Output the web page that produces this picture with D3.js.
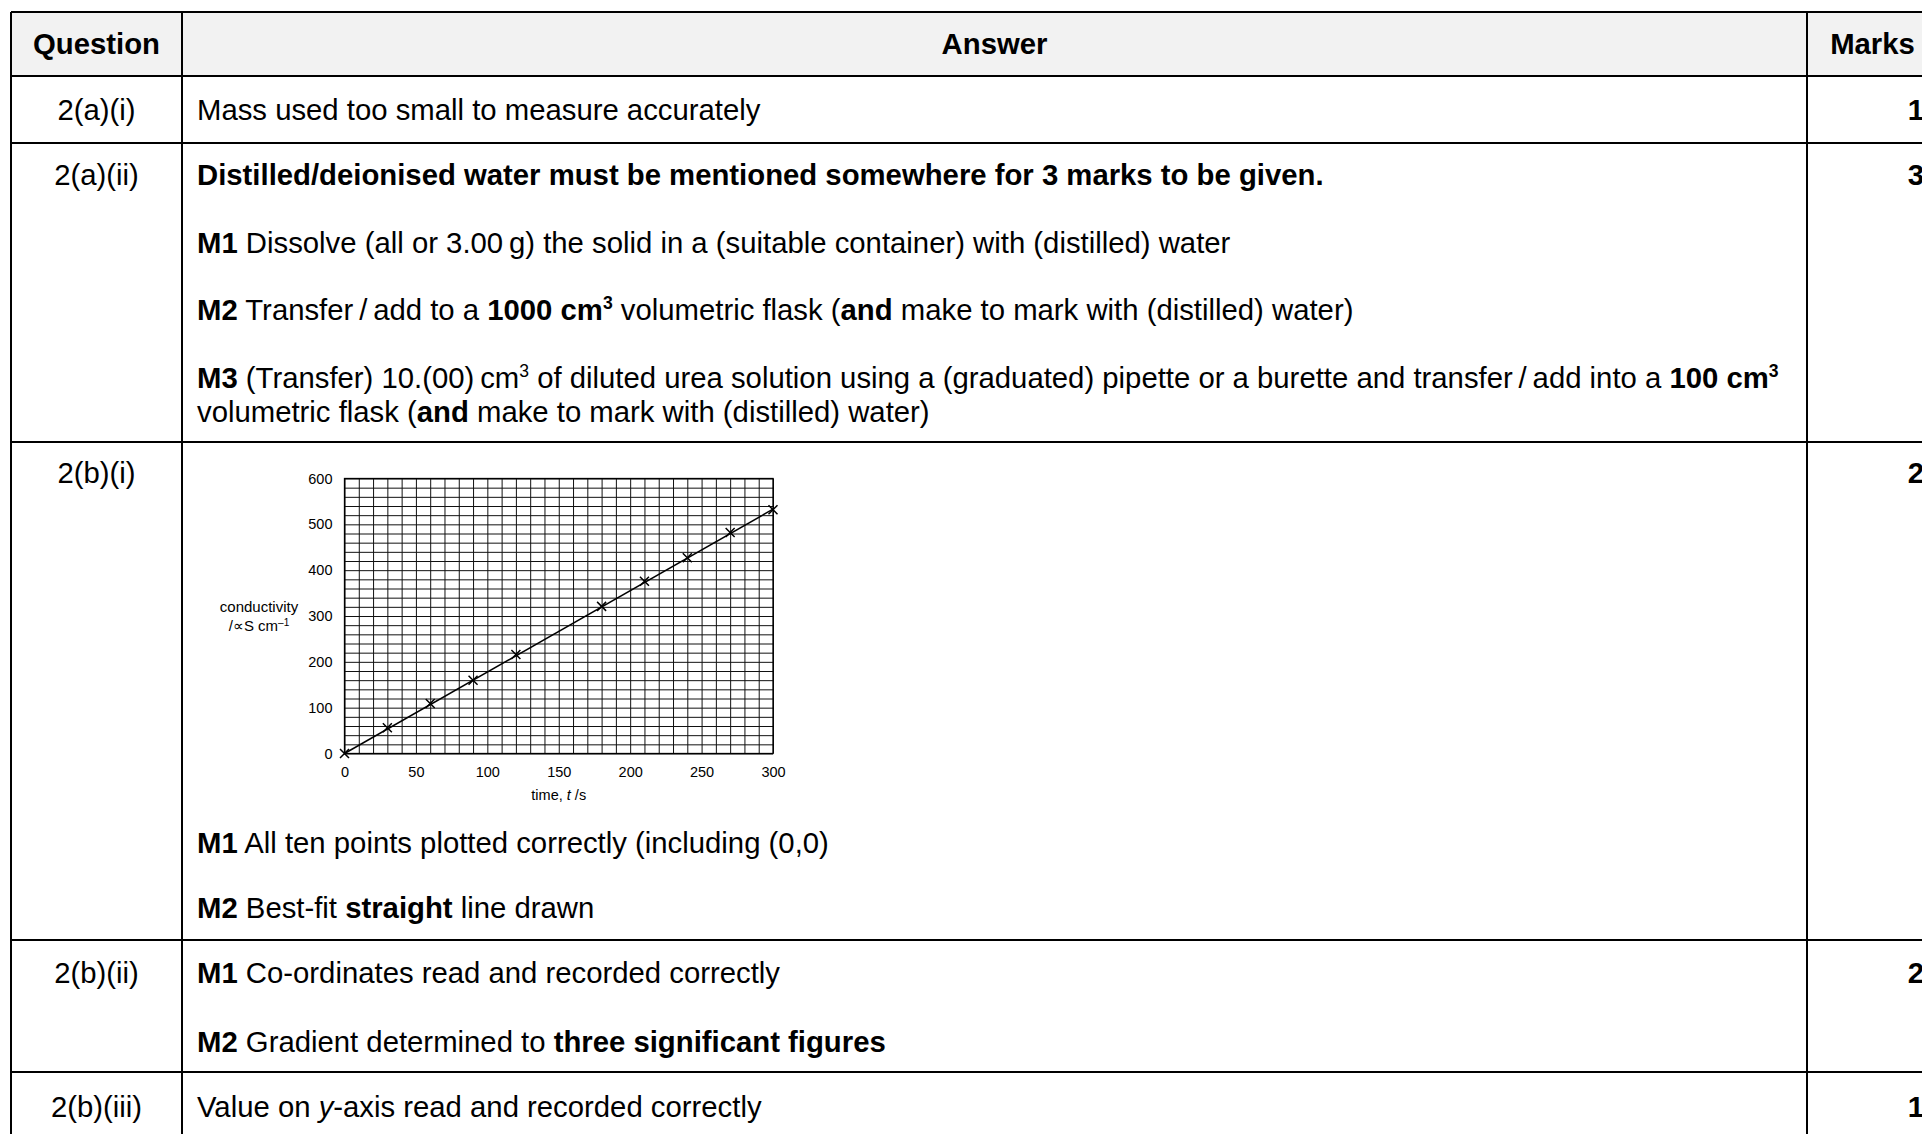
<!DOCTYPE html>
<html>
<head>
<meta charset="utf-8">
<script src="https://cdn.jsdelivr.net/npm/d3@7"></script>
<style>
body { margin: 0; background: #fff; }
svg { display: block; }
text { font-family: "Liberation Sans", Arial, sans-serif; fill: #000; }
</style>
</head>
<body>
<script>
const questions = ["2(a)(i)", "2(a)(ii)", "2(b)(i)", "2(b)(ii)", "2(b)(iii)"];
const marks = ["1", "3", "2", "2", "1"];
const times = [0, 30, 60, 90, 120, 180, 210, 240, 270, 300];
const conductivity = [0, 56, 109, 160, 216, 321, 376, 427, 482, 532];
const fitLine = [[0, 0], [300, 533]];
const xTicks = [0, 50, 100, 150, 200, 250, 300];
const yTicks = [0, 100, 200, 300, 400, 500, 600];

// each answer line is a list of [text, style]; b = bold, i = italic, s = superscript
const answers = [
  [[["Mass used too small to measure accurately"]]],
  [
    [["Distilled/deionised water must be mentioned somewhere for 3 marks to be given.", "b"]],
    [["M1", "b"], [" Dissolve (all or 3.00\u2009g) the solid in a (suitable container) with (distilled) water"]],
    [["M2", "b"], [" Transfer\u2009/\u2009add to a "], ["1000 cm", "b"], ["3", "bs"], [" volumetric flask ("], ["and", "b"], [" make to mark with (distilled) water)"]],
    [["M3", "b"], [" (Transfer) 10.(00)\u2009cm"], ["3", "s"], [" of diluted urea solution using a (graduated) pipette or a burette and transfer\u2009/\u2009add into a "], ["100 cm", "b"], ["3", "bs"]],
    [["volumetric flask ("], ["and", "b"], [" make to mark with (distilled) water)"]]
  ],
  [
    [["M1", "b"], [" All ten points plotted correctly (including (0,0)"]],
    [["M2", "b"], [" Best-fit "], ["straight", "b"], [" line drawn"]]
  ],
  [
    [["M1", "b"], [" Co-ordinates read and recorded correctly"]],
    [["M2", "b"], [" Gradient determined to "], ["three significant figures", "b"]]
  ],
  [[["Value on "], ["y", "i"], ["-axis read and recorded correctly"]]]
];

const W = 1922, H = 1134;
const fs = 29.3;
const rowLines = [12, 76, 143, 442, 940, 1072, 1150];
const colLines = [11, 182, 1807, 1938];
const labelY = [110, 175, 473, 973, 1107];
const answerY = [[110], [175, 243, 310, 378, 412], [843, 908], [973, 1042], [1107]];

const svg = d3.select("body").append("svg").attr("width", W).attr("height", H);

svg.append("rect")
  .attr("x", colLines[0]).attr("y", rowLines[0])
  .attr("width", colLines[3] - colLines[0]).attr("height", rowLines[1] - rowLines[0])
  .attr("fill", "#f2f2f2");

// header
const header = svg.append("g").attr("font-size", fs).attr("font-weight", "bold").attr("text-anchor", "middle");
const hy = (rowLines[0] + rowLines[1]) / 2 + 10;
header.append("text").attr("x", (colLines[0] + colLines[1]) / 2).attr("y", hy).text("Question");
header.append("text").attr("x", (colLines[1] + colLines[2]) / 2).attr("y", hy).text("Answer");
header.append("text").attr("x", (colLines[2] + colLines[3]) / 2).attr("y", hy).text("Marks");

// question labels and marks
svg.append("g").selectAll("text").data(questions).join("text")
  .attr("x", (colLines[0] + colLines[1]) / 2).attr("y", (d, i) => labelY[i] + 10)
  .attr("text-anchor", "middle").attr("font-size", fs).text(d => d);

svg.append("g").selectAll("text").data(marks).join("text")
  .attr("x", 1924).attr("y", (d, i) => labelY[i] + 10)
  .attr("text-anchor", "end").attr("font-size", fs).attr("font-weight", "bold").text(d => d);

// answer text
answers.forEach((rows, r) => {
  rows.forEach((pieces, k) => {
    const t = svg.append("text").attr("x", 197).attr("y", answerY[r][k] + 10).attr("font-size", fs);
    let raised = false;
    pieces.forEach(([str, st = ""]) => {
      const sp = t.append("tspan").text(str);
      if (st.includes("b")) sp.attr("font-weight", "bold");
      if (st.includes("i")) sp.attr("font-style", "italic");
      if (st.includes("s")) {
        sp.attr("font-size", fs * 0.6).attr("dy", -11);
        raised = true;
      } else if (raised) {
        sp.attr("dy", 11);
        raised = false;
      }
    });
  });
});

// table lines
const grid = svg.append("g").attr("stroke", "#000").attr("stroke-width", 2);
rowLines.forEach(y => grid.append("line").attr("x1", colLines[0]).attr("x2", colLines[3]).attr("y1", y).attr("y2", y));
colLines.forEach(x => grid.append("line").attr("x1", x).attr("x2", x).attr("y1", rowLines[0]).attr("y2", rowLines[6]));

// chart
const x = d3.scaleLinear().domain([0, 300]).range([344.5, 773]);
const y = d3.scaleLinear().domain([0, 600]).range([753.5, 478.5]);
const chart = svg.append("g");

const xAxis = chart.append("g").attr("transform", `translate(0,${y(0)})`)
  .call(d3.axisBottom(x).tickValues(d3.range(0, 301, 10)).tickSize(-(y(0) - y(600))).tickPadding(13)
    .tickFormat(d => xTicks.includes(d) ? d : ""));
const yAxis = chart.append("g").attr("transform", `translate(${x(0)},0)`)
  .call(d3.axisLeft(y).tickValues(d3.range(0, 601, 20)).tickSize(-(x(300) - x(0))).tickPadding(12)
    .tickFormat(d => yTicks.includes(d) ? d : ""));
[xAxis, yAxis].forEach(a => {
  a.select(".domain").remove();
  a.selectAll("line").attr("stroke", "#111").attr("stroke-width", 1);
  a.selectAll("text").attr("font-family", "Liberation Sans, Arial, sans-serif").attr("font-size", 14.5).attr("fill", "#000");
});
chart.append("rect").attr("x", x(0)).attr("y", y(600))
  .attr("width", x(300) - x(0)).attr("height", y(0) - y(600))
  .attr("fill", "none").attr("stroke", "#000").attr("stroke-width", 1.3);

chart.append("path").datum(fitLine)
  .attr("d", d3.line().x(d => x(d[0])).y(d => y(d[1])))
  .attr("fill", "none").attr("stroke", "#000").attr("stroke-width", 1.5);

chart.append("g").selectAll("path").data(times).join("path")
  .attr("transform", (d, i) => `translate(${x(d)},${y(conductivity[i])})`)
  .attr("d", "M-4.5,-4.5L4.5,4.5M-4.5,4.5L4.5,-4.5")
  .attr("stroke", "#000").attr("stroke-width", 1.5);

const xt = chart.append("text").attr("x", (x(0) + x(300)) / 2).attr("y", 800)
  .attr("text-anchor", "middle").attr("font-size", 14.5);
xt.append("tspan").text("time, ");
xt.append("tspan").attr("font-style", "italic").text("t");
xt.append("tspan").text(" /s");

chart.append("text").attr("x", 259).attr("y", 612).attr("text-anchor", "middle").attr("font-size", 15).text("conductivity");
const yt = chart.append("text").attr("x", 259).attr("y", 631).attr("text-anchor", "middle").attr("font-size", 15);
yt.append("tspan").text("/\u221dS cm");
yt.append("tspan").attr("font-size", 10).attr("dy", -5).text("\u20131");
</script>
</body>
</html>
